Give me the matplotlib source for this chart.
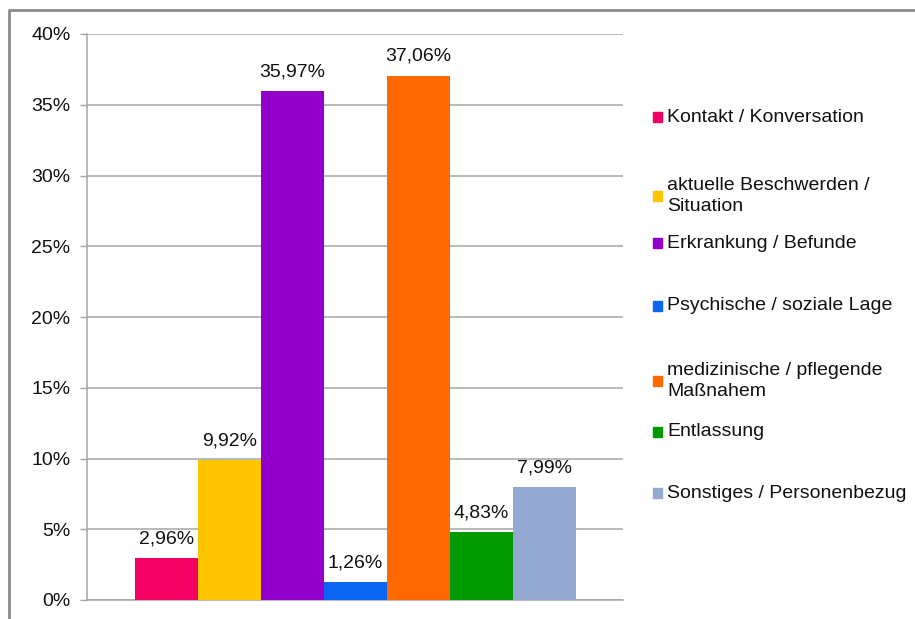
import matplotlib.pyplot as plt
from matplotlib.patches import Rectangle
from matplotlib.lines import Line2D

plt.rcParams['font.family'] = ['Liberation Sans', 'DejaVu Sans']

# Daten
kategorien = ['Kontakt / Konversation', 'aktuelle Beschwerden /\nSituation',
              'Erkrankung / Befunde', 'Psychische / soziale Lage',
              'medizinische / pflegende\nMaßnahem', 'Entlassung',
              'Sonstiges / Personenbezug']
werte = [2.96, 9.92, 35.97, 1.26, 37.06, 4.83, 7.99]
farben = ['#F20062', '#FFC400', '#9300CC', '#0A66F2', '#FF6A00', '#009A00', '#93A9D2']
yticks = [0, 5, 10, 15, 20, 25, 30, 35, 40]

fig = plt.figure(figsize=(9.15, 6.19), dpi=100)
ax = fig.add_axes([87/915, 1-600/619, (623-87)/915, (600-34)/619])

x = list(range(len(werte)))
ax.bar(x, werte, width=1.0, color=farben, zorder=3)
for xi, w in zip(x, werte):
    ax.text(xi, w + 0.75, f'{w:.2f}'.replace('.', ',') + '%', ha='center', va='bottom',
            fontsize=14, color='#111111', zorder=4)

ax.set_xlim(-1.26, 7.25)
ax.set_ylim(0, 40)
ax.set_yticks(yticks)
ax.set_yticklabels([f'{t}%' for t in yticks], fontsize=14, color='#111111')
ax.set_xticks([])
ax.yaxis.grid(True, color='#a6a6a6', linewidth=1.1, zorder=0)
ax.tick_params(axis='y', length=5, width=1, color='#a6a6a6', pad=7)
for s in ['top', 'right']:
    ax.spines[s].set_visible(False)
ax.spines['left'].set_color('#a6a6a6')
ax.spines['bottom'].set_color('#a6a6a6')
ax.spines['left'].set_linewidth(1.1)
ax.spines['bottom'].set_linewidth(1.1)

# Legende
leg_y = [117, 196, 243, 306, 381, 432, 493]
for lab, col, yy in zip(kategorien, farben, leg_y):
    fig.patches.append(Rectangle((653/915, 1-(yy+5)/619), 9/915, 10/619,
                                 transform=fig.transFigure, color=col))
    fig.text(667/915, 1-yy/619, lab, ha='left', va='center', fontsize=14,
             color='#111111', linespacing=1.25)

# Rahmen
fig.lines.append(Line2D([9/915, 9/915, 1.0], [0.0, 1-10/619, 1-10/619],
                        transform=fig.transFigure, color='#8c8c8c', linewidth=2))

fig.savefig('out.png', dpi=100, facecolor='white')
